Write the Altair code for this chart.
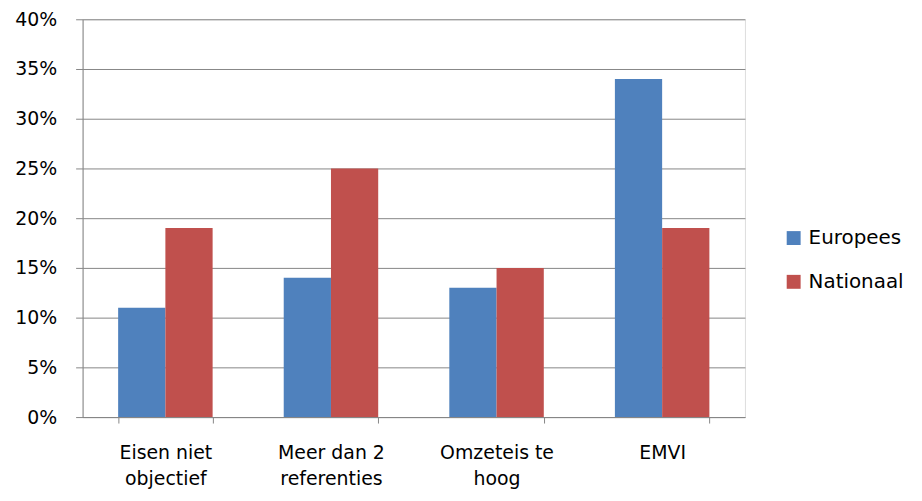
import altair as alt
import pandas as pd
import json

categories = ["Eisen niet objectief", "Meer dan 2 referenties", "Omzeteis te hoog", "EMVI"]
label_lines = [["Eisen niet", "objectief"], ["Meer dan 2", "referenties"], ["Omzeteis te", "hoog"], ["EMVI"]]
series = ["Europees", "Nationaal"]
europees = [0.11, 0.14, 0.13, 0.34]
nationaal = [0.19, 0.25, 0.15, 0.19]
y_ticks = [0, 0.05, 0.10, 0.15, 0.20, 0.25, 0.30, 0.35, 0.40]
colors = ["#4F81BD", "#C0504D"]

rows = []
for c, e, n in zip(categories, europees, nationaal):
    rows.append({"categorie": c, "reeks": "Europees", "waarde": e})
    rows.append({"categorie": c, "reeks": "Nationaal", "waarde": n})
df = pd.DataFrame(rows)

expr = "datum.label"
for c, lines in reversed(list(zip(categories, label_lines))):
    expr = f"datum.label == {json.dumps(c)} ? {json.dumps(lines)} : ({expr})"

FONT = "DejaVu Sans"
GREY = "#868686"

chart = alt.Chart(df).mark_bar().encode(
    x=alt.X("categorie:N", sort=categories, title=None,
            scale=alt.Scale(paddingInner=0.4294, paddingOuter=0.2147),
            axis=alt.Axis(labelAngle=0, tickBand="extent", labelExpr=expr,
                          domainColor=GREY, tickColor=GREY, tickSize=6,
                          labelFont=FONT, labelFontSize=19, labelColor="#000000",
                          labelBaseline="top", labelPadding=21, labelLineHeight=26,
                          grid=False)),
    xOffset=alt.XOffset("reeks:N", sort=series,
                        scale=alt.Scale(paddingInner=0, paddingOuter=0)),
    y=alt.Y("waarde:Q", title=None,
            scale=alt.Scale(domain=[0, 0.4], nice=False, zero=True),
            axis=alt.Axis(values=y_ticks, format=".0%", domainColor=GREY, tickColor=GREY,
                          tickSize=7, gridColor=GREY, gridWidth=1, labelFont=FONT,
                          labelFontSize=19, labelColor="#000000", labelPadding=19)),
    color=alt.Color("reeks:N", sort=series, title=None,
                    scale=alt.Scale(domain=series, range=colors),
                    legend=alt.Legend(orient="none", legendX=705, legendY=210,
                                      symbolType="square", symbolSize=196,
                                      symbolStrokeWidth=0, labelFont=FONT,
                                      labelFontSize=20, labelColor="#000000",
                                      labelOffset=5, rowPadding=24, padding=0)),
).properties(
    width=666, height=400,
    autosize=alt.AutoSizeParams(type="none"),
    padding={"left": 75, "top": 10, "right": 170, "bottom": 75},
).configure_view(stroke=None).configure(background="#FFFFFF")

chart.save("out.html", embed_options={"renderer": "svg", "actions": False})
